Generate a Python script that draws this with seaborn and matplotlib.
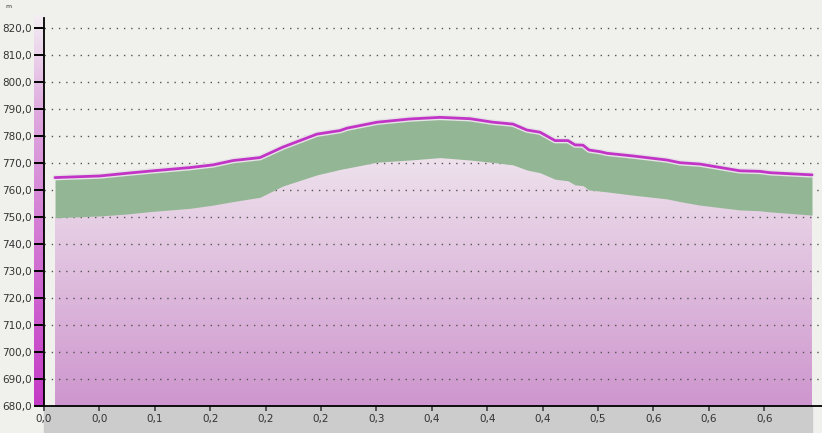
import numpy as np
import pandas as pd
import matplotlib
matplotlib.use("Agg")
import matplotlib.pyplot as plt
import matplotlib.patheffects as pe
from matplotlib.patches import Rectangle
import seaborn as sns

# ---- data (distance in tick units, elevations in m) ----
distance = [0.199, 1.011, 1.498, 1.913, 2.635, 3.051, 3.412, 3.899, 4.314, 4.928,
            5.343, 5.469, 6.011, 6.606, 7.148, 7.690, 8.105, 8.466, 8.718, 8.953,
            9.224, 9.458, 9.585, 9.729, 9.838, 10.036, 10.162, 10.632, 11.245, 11.480,
            11.841, 12.563, 12.924, 13.105, 13.863]
upper = [764.6, 765.2, 766.2, 767.0, 768.3, 769.3, 770.9, 772.0, 775.9, 780.7,
         782.0, 782.9, 785.1, 786.3, 786.9, 786.4, 785.1, 784.4, 782.2, 781.4,
         778.3, 778.3, 776.7, 776.6, 774.8, 774.2, 773.6, 772.6, 771.1, 770.1,
         769.6, 767.1, 766.9, 766.4, 765.6]
lower = [749.7, 750.4, 751.1, 752.0, 753.2, 754.4, 755.7, 757.3, 761.5, 765.6,
         767.6, 768.1, 770.3, 771.1, 772.0, 771.1, 770.2, 769.3, 767.4, 766.4,
         764.0, 763.4, 761.9, 761.6, 760.0, 759.6, 759.3, 758.1, 756.7, 755.7,
         754.4, 752.6, 752.3, 751.9, 750.7]
x_tick_labels = ["0,0", "0,0", "0,1", "0,2", "0,2", "0,2", "0,3", "0,4",
                 "0,4", "0,4", "0,5", "0,6", "0,6", "0,6"]
y_ticks = [680, 690, 700, 710, 720, 730, 740, 750, 760, 770, 780, 790, 800, 810, 820]

df = pd.DataFrame({"distance": distance, "upper": upper, "lower": lower})

BG = "#F0F1EC"
W, H = 822, 433
sns.set_style("white")
fig = plt.figure(figsize=(W / 100, H / 100), dpi=100, facecolor=BG)

ax = fig.add_axes([44 / W, 27 / H, (W - 44) / W, (406 - 18) / H])
ax.set_facecolor(BG)

ymin, ymax = 680, 823.7
xmax = (822 - 44) / 55.4

# left gradient bar
bar = fig.add_axes([34 / W, 27 / H, 9.5 / W, (406 - 15) / H], zorder=-1)
cb = np.linspace(0, 1, 256).reshape(-1, 1)
top_c = np.array([243, 238, 243]) / 255
mid_c = np.array([222, 168, 222]) / 255
bot_c = np.array([196, 58, 198]) / 255
cols = np.where(cb[..., None] < 0.25,
                top_c + (mid_c - top_c) * (cb[..., None] / 0.25),
                mid_c + (bot_c - mid_c) * ((cb[..., None] - 0.25) / 0.75))
bar.imshow(cols, aspect="auto", extent=[0, 1, 0, 1], origin="upper")
bar.set_axis_off()

# bottom grey band
fig.patches.append(Rectangle((44 / W, 0), (812 - 44) / W, 27 / H,
                             transform=fig.transFigure, color="#CCCCCC", zorder=-2))

# pink gradient fill (ground)
pink = ax.fill_between(df["distance"], ymin, df["lower"], color="none", lw=0)
g = np.linspace(0, 1, 256).reshape(-1, 1)
ptop = np.array([239, 228, 237]) / 255
pbot = np.array([206, 150, 206]) / 255
pimg = ptop + (pbot - ptop) * g[..., None]
im = ax.imshow(pimg, aspect="auto", extent=[0, xmax, ymin, 775], origin="upper", zorder=0.5)
im.set_clip_path(pink.get_paths()[0], transform=ax.transData)

# green band
ax.fill_between(df["distance"], df["lower"], df["upper"], color="#93B795", lw=0, zorder=1)

# upper magenta line
sns.lineplot(data=df, x="distance", y="upper", ax=ax, color="#C234C6", lw=2, zorder=3,
             path_effects=[pe.Stroke(linewidth=4, foreground="#E6E4E6"), pe.Normal()])

ax.set_xlim(0, xmax)
ax.set_ylim(ymin, ymax)

# grid
ax.set_yticks(y_ticks)
ax.set_yticklabels([f"{v:.1f}".replace(".", ",") for v in y_ticks])
ax.grid(axis="y", color="#555555", linestyle=(0, (1, 4.2)), linewidth=1)
for gl in ax.get_ygridlines():
    gl.set_zorder(0.8)

ax.set_xticks(range(len(x_tick_labels)))
ax.set_xticklabels(x_tick_labels)

ax.tick_params(axis="y", left=True, direction="out", length=7.3, width=1.4, color="black",
               labelsize=7.5, labelcolor="#333333", pad=1.5)
ax.tick_params(axis="x", bottom=True, direction="out", length=3.5, width=1.4, color="#555555",
               labelsize=7.5, labelcolor="#333333", pad=2.5)

for s in ["top", "right"]:
    ax.spines[s].set_visible(False)
ax.spines["left"].set_color("black")
ax.spines["left"].set_linewidth(1.3)
ax.spines["bottom"].set_color("black")
ax.spines["bottom"].set_linewidth(1.3)
ax.set_xlabel("")
ax.set_ylabel("")

fig.text(5 / W, 1 - 7 / H, "m", fontsize=4.5, color="#333333", va="center", ha="left")

fig.savefig("out.png", dpi=100, facecolor=BG)
